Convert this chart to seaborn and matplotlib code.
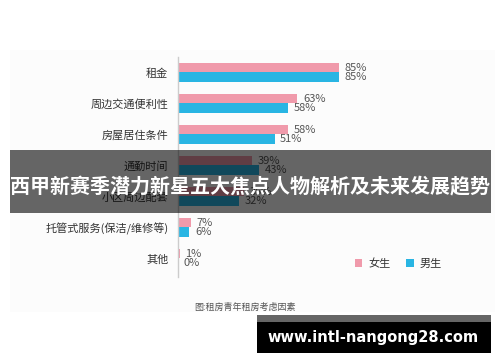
import matplotlib
matplotlib.use("Agg")
import matplotlib.pyplot as plt
from matplotlib.patches import Rectangle
import seaborn as sns
import pandas as pd

categories = ['租金', '周边交通便利性', '房屋居住条件', '通勤时间', '小区周边配套',
              '托管式服务(保洁/维修等)', '其他']
female = [85, 63, 58, 39, 35, 7, 1]
male = [85, 58, 51, 43, 32, 6, 0]
series_names = ['女生', '男生']
colors = ['#f09aab', '#29b5e3']
title_text = '西甲新赛季潜力新星五大焦点人物解析及未来发展趋势'
caption_text = '图:租房青年租房考虑因素'
watermark_text = 'www.intl-nangong28.com'

df = pd.DataFrame({
    'cat': categories * 2,
    'val': female + male,
    'sex': [series_names[0]] * len(categories) + [series_names[1]] * len(categories),
})

plt.rcParams['font.family'] = ['Noto Sans CJK SC', 'DejaVu Sans']

W, H = 500, 362
fig = plt.figure(figsize=(W / 100, H / 100), dpi=100, facecolor='white')

# faint background panel
fig.patches.append(Rectangle((10 / W, 1 - 312 / H), 485 / W, 262 / H,
                             transform=fig.transFigure, facecolor='#fcfcfc',
                             edgecolor='none', zorder=-1))

ax = fig.add_axes([178 / W, 1 - 277 / H, 189.4 / W, 220 / H])
ax.set_facecolor('none')
sns.barplot(data=df, y='cat', x='val', hue='sex', hue_order=series_names,
            palette=colors, orient='h', width=0.6, ax=ax, saturation=1,
            order=categories)
ax.set_xlim(0, 100)
ax.set_ylim(6.6, -0.5)
for s in ['top', 'right', 'bottom']:
    ax.spines[s].set_visible(False)
ax.spines['left'].set_color('#cccccc')
ax.spines['left'].set_linewidth(1)
ax.set_xticks([])
ax.set_xlabel('')
ax.set_ylabel('')
ax.tick_params(axis='y', length=0, pad=7, labelsize=8, labelcolor='#333333')

for cont in ax.containers:
    ax.bar_label(cont, labels=[f'{v:g}%' for v in cont.datavalues], padding=4,
                 fontsize=8, color='#555555')

sns.move_legend(ax, 'center', bbox_to_anchor=(398 / W, 1 - 264 / H),
                bbox_transform=fig.transFigure, ncol=2, frameon=False,
                title=None, handlelength=0.7, handleheight=0.7,
                handletextpad=0.5, columnspacing=1.4, fontsize=8,
                labelcolor='#333333')

fig.text(245 / W, 1 - 307 / H, caption_text, fontsize=6.5, color='#555555',
         ha='center', va='center')

# title banner overlay
fig.patches.append(Rectangle((10 / W, 1 - 212.7 / H), 481 / W, 62.7 / H,
                             transform=fig.transFigure, facecolor='black',
                             alpha=0.6, edgecolor='none', zorder=5))
fig.text(250 / W, 1 - 187 / H, title_text, fontsize=14.4, fontweight='bold',
         color='white', ha='center', va='center', zorder=6)

# watermark
fig.patches.append(Rectangle((257 / W, 1 - 322 / H), 234 / W, 7 / H,
                             transform=fig.transFigure, facecolor='#666666',
                             edgecolor='none', zorder=5))
fig.patches.append(Rectangle((257 / W, 1 - 353 / H), 234 / W, 31 / H,
                             transform=fig.transFigure, facecolor='black',
                             edgecolor='none', zorder=5))
fig.text(373 / W, 1 - 337.5 / H, watermark_text, fontsize=10.5,
         fontweight='bold', color='white', ha='center', va='center',
         family=['DejaVu Sans'], zorder=6)

fig.savefig('out.png', dpi=100, facecolor='white')
